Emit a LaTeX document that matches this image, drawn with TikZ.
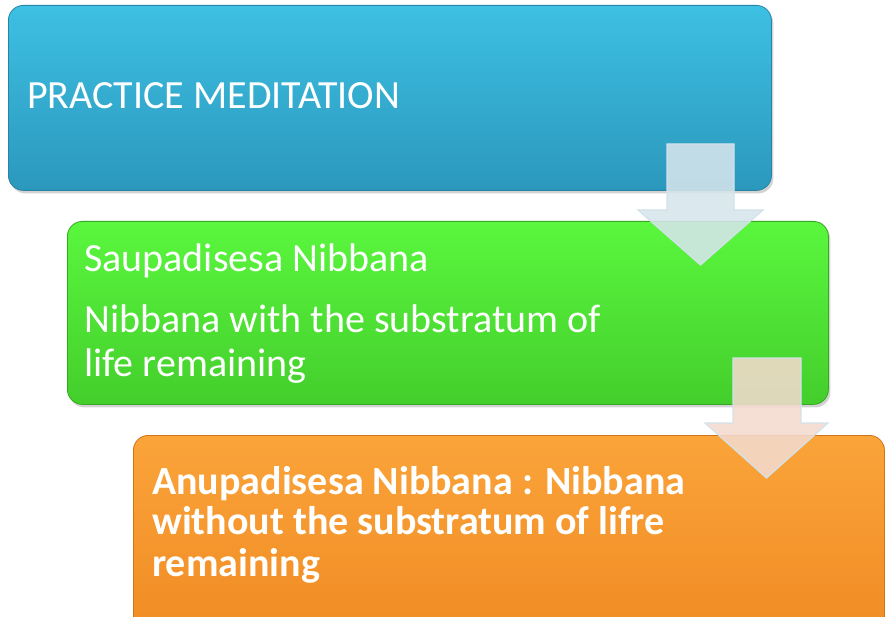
\documentclass[tikz,border=0pt]{standalone}
\usepackage{fontspec}
\setmainfont{Carlito}
\usetikzlibrary{shadows}
\definecolor{blueT}{HTML}{3DC0E3}
\definecolor{blueB}{HTML}{2B98BC}
\definecolor{blueD}{HTML}{2784A4}
\definecolor{greenT}{HTML}{5AF73E}
\definecolor{greenB}{HTML}{44CE2C}
\definecolor{greenD}{HTML}{36A824}
\definecolor{orT}{HTML}{FAA43A}
\definecolor{orB}{HTML}{F08A22}
\definecolor{orD}{HTML}{CF7418}
\definecolor{arrA}{HTML}{D6E5EC}
\definecolor{arrB}{HTML}{F4DACE}
\definecolor{arrEdge}{HTML}{D2E2EA}
\begin{document}
\begin{tikzpicture}[x=1pt,y=-1pt,
  box/.style={rounded corners=15pt, line width=0.8pt, anchor=north west, inner sep=0pt,
    drop shadow={opacity=0.35, shadow xshift=2pt, shadow yshift=-3pt}},
  txt/.style={font=\fontsize{40}{40}\selectfont, text=white, inner sep=0pt, anchor=base west},
  btxt/.style={txt, font=\fontsize{40}{40}\selectfont\bfseries},
  blockarrow/.style={line width=1.2pt, draw=arrEdge, fill opacity=0.88, line join=miter}]
\clip (0,0) rectangle (885,617);
\node[box, top color=blueT, bottom color=blueB, draw=blueD,
  minimum width=763pt, minimum height=185pt] (b1) at (8,5) {};
\node[box, top color=greenT, bottom color=greenB, draw=greenD,
  minimum width=761pt, minimum height=183pt] (b2) at (67,221) {};
\node[box, top color=orT, bottom color=orB, draw=orD,
  minimum width=751pt, minimum height=210pt] (b3) at (133,435) {};
% text
\node[txt] (t1) at (27,109) {PRACTICE MEDITATION};
\node[txt] (t2) at (84,272) {Saupadisesa Nibbana};
\node[txt] (t3) at (84,332) {Nibbana with the substratum of};
\node[txt] (t4) at (84,376) {life remaining};
\node[btxt] (t5) at (152,494) {Anupadisesa Nibbana : Nibbana};
\node[btxt] (t6) at (152,534) {without the substratum of lifre};
\node[btxt] (t7) at (152,576) {remaining};
% block arrows
\draw[blockarrow, fill=arrA] (667,144) -- (734,144) -- (734,210) -- (763,210) -- (700.5,265)
  -- (638,210) -- (667,210) -- cycle;
\draw[blockarrow, fill=arrB] (733,358) -- (801,358) -- (801,423) -- (828,423) -- (766.5,478)
  -- (705,423) -- (733,423) -- cycle;
\end{tikzpicture}
\end{document}
